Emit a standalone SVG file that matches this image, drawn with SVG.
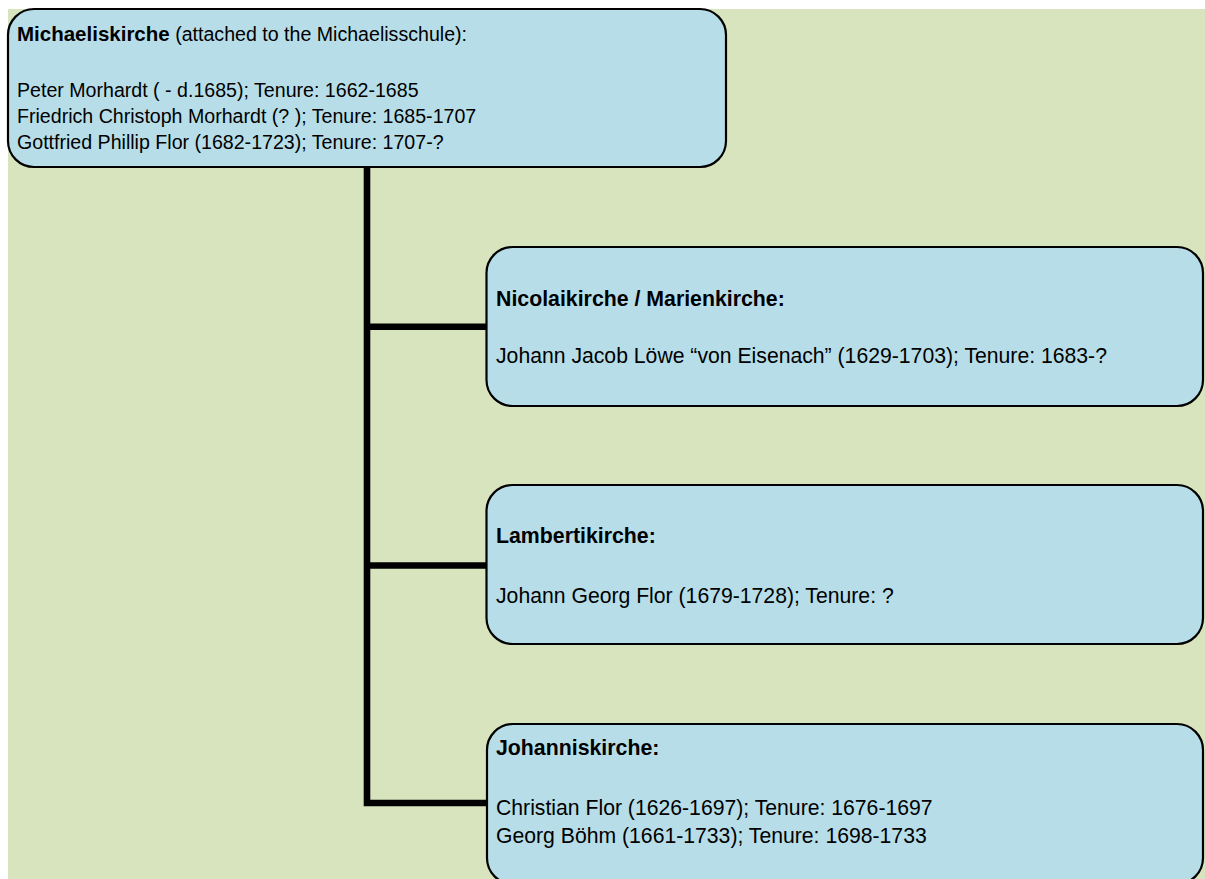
<svg xmlns="http://www.w3.org/2000/svg" width="1205" height="879" viewBox="0 0 1205 879">
<style>
.box{fill:#b7dee8;stroke:#000;stroke-width:2.2}
.conn{fill:none;stroke:#000;stroke-width:6.6;stroke-linejoin:miter;stroke-linecap:butt}
text{font-family:"Liberation Sans",Arial,sans-serif;font-size:19.6px;fill:#000}
.b{font-weight:bold;font-size:20.5px}
.l{font-size:21.2px}
.lb{font-weight:bold;font-size:21.3px}
</style>
<rect x="0" y="0" width="1205" height="879" fill="#ffffff"/>
<rect x="8" y="9" width="1197" height="870" fill="#d7e4bd"/>
<g id="connectors">
<path class="conn" d="M486.5 803 H367 V167"/>
<path class="conn" d="M367 326.7 H486.5"/>
<path class="conn" d="M367 565.5 H486.5"/>
</g>
<g id="node-michaeliskirche">
<rect class="box" x="8" y="9" width="718" height="158" rx="26" ry="26"/>
<text x="17" y="41"><tspan class="b">Michaeliskirche</tspan> (attached to the Michaelisschule):</text>
<text x="17" y="97">Peter Morhardt ( - d.1685); Tenure: 1662-1685</text>
<text x="17" y="122.8">Friedrich Christoph Morhardt (? ); Tenure: 1685-1707</text>
<text x="17" y="148.5">Gottfried Phillip Flor (1682-1723); Tenure: 1707-?</text>
</g>
<g id="node-nicolaikirche">
<rect class="box" x="486.5" y="247" width="716.5" height="159" rx="26" ry="26"/>
<text class="lb" x="496" y="305.7">Nicolaikirche / Marienkirche:</text>
<text class="l" x="496" y="363">Johann Jacob Löwe “von Eisenach” (1629-1703); Tenure: 1683-?</text>
</g>
<g id="node-lambertikirche">
<rect class="box" x="486.5" y="485" width="716.5" height="159" rx="26" ry="26"/>
<text class="lb" x="496" y="543">Lambertikirche:</text>
<text class="l" x="496" y="602.7">Johann Georg Flor (1679-1728); Tenure: ?</text>
</g>
<g id="node-johanniskirche">
<rect class="box" x="487" y="724" width="716" height="160" rx="26" ry="26"/>
<text class="lb" x="496" y="755">Johanniskirche:</text>
<text class="l" x="496" y="815">Christian Flor (1626-1697); Tenure: 1676-1697</text>
<text class="l" x="496" y="843.3">Georg Böhm (1661-1733); Tenure: 1698-1733</text>
</g>
</svg>
